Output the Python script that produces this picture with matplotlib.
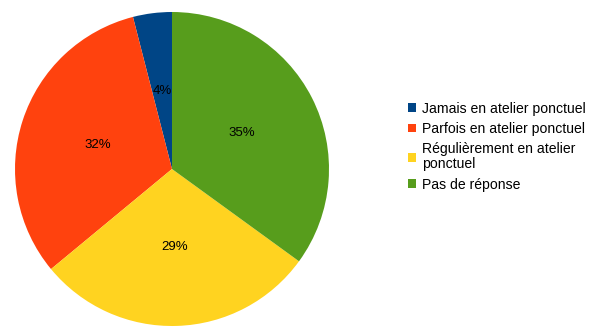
import matplotlib
matplotlib.use("Agg")
import matplotlib.pyplot as plt

labels = ["Jamais en atelier ponctuel", "Parfois en atelier ponctuel",
          "Régulièrement en atelier\nponctuel", "Pas de réponse"]
values = [4, 32, 29, 35]
colors = ["#004586", "#ff420e", "#ffd320", "#579d1c"]

plt.rcParams["font.family"] = ["Liberation Sans", "DejaVu Sans"]

W, H = 603, 328
fig = plt.figure(figsize=(W / 100, H / 100), dpi=100)
cx, cy, r = 172, 169, 157
ax = fig.add_axes([(cx - r) / W, (H - cy - r) / H, 2 * r / W, 2 * r / H])

wedges, texts = ax.pie(values, colors=colors, startangle=90, counterclock=True,
                       labels=[f"{v}%" for v in values], labeldistance=0.5,
                       textprops=dict(fontsize=9.5, color="black", ha="center", va="center"),
                       wedgeprops=dict(linewidth=0))
ax.set_xlim(-1, 1)
ax.set_ylim(-1, 1)
ax.set_aspect("equal")

leg = fig.legend(wedges, labels, loc="upper left", bbox_to_anchor=(402 / W, 1 - 96 / H),
                 frameon=False, fontsize=10.1, handlelength=0.6, handleheight=0.6,
                 handletextpad=0.4, labelspacing=0.45, borderaxespad=0)
for t in leg.get_texts():
    t.set_linespacing(1.1)

fig.savefig("out.png", dpi=100, facecolor="white")
